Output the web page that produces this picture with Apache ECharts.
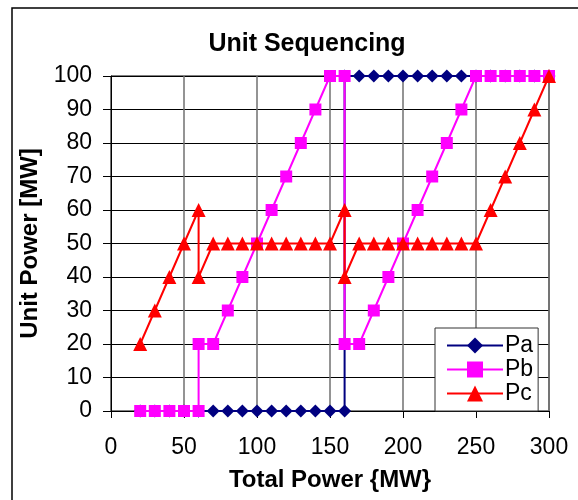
<!DOCTYPE html>
<html>
<head>
<meta charset="utf-8">
<script src="https://cdn.jsdelivr.net/npm/echarts@6/dist/echarts.min.js"></script>
<style>
html,body{margin:0;padding:0;background:#fff;}
#c{width:578px;height:500px;}
</style>
</head>
<body>
<div id="c"></div>
<script>
var totals = [20,30,40,50,60,60,70,80,90,100,110,120,130,140,150,160,160,170,180,190,200,210,220,230,240,250,260,270,280,290,300];
var pa = [0,0,0,0,0,0,0,0,0,0,0,0,0,0,0,0,100,100,100,100,100,100,100,100,100,100,100,100,100,100,100];
var pb = [0,0,0,0,0,20,20,30,40,50,60,70,80,90,100,100,20,20,30,40,50,60,70,80,90,100,100,100,100,100,100];
var pc = [20,30,40,50,60,40,50,50,50,50,50,50,50,50,50,60,40,50,50,50,50,50,50,50,50,50,60,70,80,90,100];
var seriesNames = ['Pa','Pb','Pc'];
var xTicks = [0,50,100,150,200,250,300];
var yTicks = [0,10,20,30,40,50,60,70,80,90,100];

function pairs(ys){ return totals.map(function(x,i){ return [x, ys[i]]; }); }

var FONT = 'Liberation Sans, Arial, sans-serif';
var chart = echarts.init(document.getElementById('c'), null, {renderer:'canvas'});
chart.setOption({
  animation: false,
  backgroundColor: '#fff',
  graphic: [{
    type: 'rect', silent: true, z: -10,
    shape: {x: 12, y: 8, width: 620, height: 620},
    style: {fill: 'none', stroke: '#000', lineWidth: 1.5}
  }],
  title: {
    text: 'Unit Sequencing',
    left: 302, top: 27, textAlign: 'center',
    textStyle: {fontFamily: FONT, fontWeight: 'bold', fontSize: 25, color: '#000'}
  },
  grid: {left: 111, right: 29, top: 76, bottom: 89, show: true, borderColor: '#000', borderWidth: 1, containLabel: false},
  legend: {
    orient: 'vertical', left: 435, top: 328,
    padding: [6, 5, 6, 11], itemGap: 1, itemWidth: 56, itemHeight: 20,
    backgroundColor: '#fff', borderColor: '#333', borderWidth: 1,
    textStyle: {fontFamily: FONT, fontSize: 23, color: '#000', padding: [0,0,0,-3]},
    data: seriesNames
  },
  xAxis: {
    type: 'value', min: xTicks[0], max: xTicks[xTicks.length-1], interval: 50,
    name: 'Total Power {MW}', nameLocation: 'middle', nameGap: 57,
    nameTextStyle: {fontFamily: FONT, fontWeight: 'bold', fontSize: 24, color: '#000'},
    axisLine: {show: true, onZero: false, lineStyle: {color: '#000', width: 1}},
    axisTick: {show: true, inside: false, length: 7, lineStyle: {color: '#000'}},
    axisLabel: {fontFamily: FONT, fontSize: 23, color: '#000', margin: 25},
    splitLine: {show: true, lineStyle: {color: '#707070', width: 1.5}}
  },
  yAxis: {
    type: 'value', min: yTicks[0], max: yTicks[yTicks.length-1], interval: 10,
    name: 'Unit Power [MW]', nameLocation: 'middle', nameGap: 68,
    nameTextStyle: {fontFamily: FONT, fontWeight: 'bold', fontSize: 24, color: '#000'},
    axisLine: {show: true, lineStyle: {color: '#000', width: 1}},
    axisTick: {show: true, inside: false, length: 8, lineStyle: {color: '#000'}},
    axisLabel: {fontFamily: FONT, fontSize: 23, color: '#000', margin: 19},
    splitLine: {show: true, lineStyle: {color: '#000', width: 1}}
  },
  series: [
    {name: 'Pa', type: 'line', data: pairs(pa), symbol: 'diamond', symbolSize: 13,
     itemStyle: {color: '#000080'}, lineStyle: {color: '#000080', width: 2}, z: 2},
    {name: 'Pb', type: 'line', data: pairs(pb), symbol: 'rect', symbolSize: 12,
     itemStyle: {color: '#FF00FF'}, lineStyle: {color: '#FF00FF', width: 2}, z: 3},
    {name: 'Pc', type: 'line', data: pairs(pc), symbol: 'triangle', symbolSize: 14,
     itemStyle: {color: '#FF0000'}, lineStyle: {color: '#FF0000', width: 2}, z: 4}
  ]
});
</script>
</body>
</html>
